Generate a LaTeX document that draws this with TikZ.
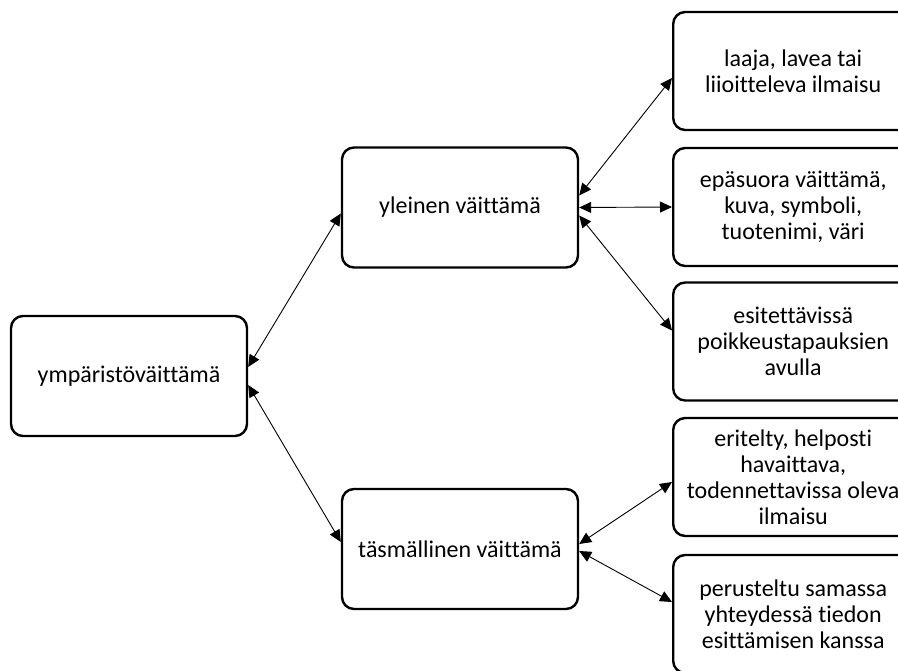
\documentclass[tikz,border=0pt]{standalone}
\usepackage{fontspec}
\setmainfont{Carlito}[Ligatures={NoCommon}]
\usetikzlibrary{arrows.meta, positioning, calc}

\begin{document}
\begin{tikzpicture}[
    x=1pt, y=-1pt,
    font=\fontsize{24}{26}\selectfont,
    % 1. Boxes
    claim/.style={draw=black, line width=2.4pt, rounded corners=12pt, fill=white, minimum width=236pt, minimum height=120pt, align=center, inner sep=0pt},
    leaf/.style={claim, anchor=west, minimum width=240pt, minimum height=118pt},
    % 2. Connectors
    link/.style={line width=0.9pt, {Triangle[length=12pt,width=11pt]}-{Triangle[length=12pt,width=11pt]}}
]
% page frame, the right and bottom boxes run off it
\clip (0,0) rectangle (898,671);

% ===============================
% Level 1 and 2
% ===============================
\node[claim] (root) at (129, 376) {ympäristöväittämä};
\node[claim] (gen) at (460, 207.5) {yleinen väittämä};
\node[claim] (prec) at (460, 549) {täsmällinen väittämä};

% ===============================
% Level 3 (left edges line up at x=672)
% ===============================
\node[leaf] (g1) at (672, 71) {laaja, lavea tai\\liioitteleva ilmaisu};
\node[leaf] (g2) at (672, 207) {epäsuora väittämä,\\kuva, symboli,\\tuotenimi, väri};
\node[leaf] (g3) at (672, 341.5) {esitettävissä\\poikkeustapauksien\\avulla};
\node[leaf] (p1) at (672, 477) {eritelty, helposti\\havaittava,\\todennettavissa oleva\\ilmaisu};
\node[leaf] (p2) at (672, 614) {perusteltu samassa\\yhteydessä tiedon\\esittämisen kanssa};

% Connectors
\draw[link] ([yshift=9pt]root.east) -- ([yshift=-6pt]gen.west);
\draw[link] ([yshift=-9pt]root.east) -- ([yshift=7pt]prec.west);

\draw[link] ([yshift=12pt]gen.east) -- ([yshift=-7pt]g1.west);
\draw[link] (gen.east) -- (g2.west);
\draw[link] ([yshift=-8pt]gen.east) -- ([yshift=11pt]g3.west);

\draw[link] ([yshift=5pt]prec.east) -- ([yshift=-5pt]p1.west);
\draw[link] ([yshift=-2pt]prec.east) -- ([yshift=12pt]p2.west);

\end{tikzpicture}
\end{document}
